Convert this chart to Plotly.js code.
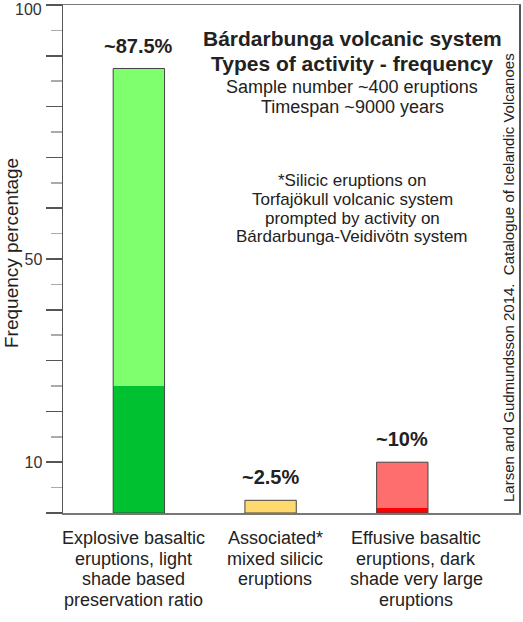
<!DOCTYPE html>
<html>
<head>
<meta charset="utf-8">
<script src="https://cdn.plot.ly/plotly-3.0.1.min.js"></script>
<style>
  html, body { margin: 0; padding: 0; background: #ffffff; }
  #chart { width: 523px; height: 622px; }
</style>
</head>
<body>
<div id="chart"></div>
<script>
// Eruption types of the Bárdarbunga volcanic system
const categories = [
  "Explosive basaltic\neruptions, light\nshade based\npreservation ratio",
  "Associated*\nmixed silicic\neruptions",
  "Effusive basaltic\neruptions, dark\nshade very large\neruptions"
];
const totals = [87.5, 2.5, 10];      // frequency percentage of each type
const darkShare = [25, 0, 1];        // dark-shaded lower part of each bar
const yTickVals = [0, 10, 20, 30, 40, 50, 60, 70, 80, 90, 100];
const yTickText = ["", "10", "", "", "", "50", "", "", "", "", ""];
const yTopLabel = "100";             // top tick label, nudged down to stay inside the page
const yMinorVals = [5, 15, 25, 35, 45, 55, 65, 75, 85, 95];
const titleLines = ["Bárdarbunga volcanic system", "Types of activity - frequency"];
const infoLines = ["Sample number ~400 eruptions", "Timespan ~9000 years"];
const noteLines = [
  "*Silicic eruptions on",
  "Torfajökull volcanic system",
  "prompted by activity on",
  "Bárdarbunga-Veidivötn system"
];
const sourceText = "Larsen and Gudmundsson 2014.  Catalogue of Icelandic Volcanoes";
const yTitle = "Frequency percentage";

// styling
const FONT = "Liberation Sans, Arial, sans-serif";
const INK = "#222222";
const lightColors = ["#80FF6E", "#FFD96E", "#FF6E6E"];
const darkColors = ["#00C230", "#FFD96E", "#FF0000"];

const W = 523, H = 622;
const M = { l: 63, r: 4, t: 5, b: 109 };
const plotW = W - M.l - M.r, plotH = H - M.t - M.b;
const px = x => (x - M.l) / plotW;            // page px -> paper x
const py = y => (H - M.b - y) / plotH;        // page px -> paper y

const idx = categories.map((_, i) => i);

const traces = [
  // full bar in the light shade
  { type: "bar", x: idx, y: totals, width: 0.39,
    marker: { color: lightColors, line: { width: 0 } }, hoverinfo: "skip" },
  // dark lower part
  { type: "bar", x: idx, y: darkShare, width: 0.39,
    marker: { color: darkColors, line: { width: 0 } }, hoverinfo: "skip" },
  // outline around the whole bar
  { type: "bar", x: idx, y: totals, width: 0.39,
    marker: { color: "rgba(0,0,0,0)", line: { width: 1, color: "#444444" } }, hoverinfo: "skip" }
];

const annotations = [];

// value labels above the bars
totals.forEach((v, i) => {
  annotations.push({
    xref: "x", yref: "y", x: i, y: v, text: "~" + v + "%",
    showarrow: false, yanchor: "middle", yshift: 23,
    font: { family: FONT, size: 20, color: INK, weight: "bold" }
  });
});

// category labels, one annotation per line
const labelCenters = [133, 275, 416];
categories.forEach((c, i) => {
  c.split("\n").forEach((line, k) => {
    annotations.push({
      xref: "paper", yref: "paper", x: px(labelCenters[i]), y: py(538 + k * 20.7),
      text: line, showarrow: false, xanchor: "center", yanchor: "middle",
      font: { family: FONT, size: 18, color: INK }
    });
  });
});

// heading block
titleLines.forEach((t, k) => {
  annotations.push({
    xref: "paper", yref: "paper", x: px(352), y: py(38 + k * 25),
    text: t, showarrow: false, xanchor: "center", yanchor: "middle",
    font: { family: FONT, size: 21, color: INK, weight: "bold" }
  });
});
infoLines.forEach((t, k) => {
  annotations.push({
    xref: "paper", yref: "paper", x: px(352), y: py(87 + k * 20.3),
    text: t, showarrow: false, xanchor: "center", yanchor: "middle",
    font: { family: FONT, size: 18, color: INK }
  });
});
noteLines.forEach((t, k) => {
  annotations.push({
    xref: "paper", yref: "paper", x: px(352), y: py(180.3 + k * 18.9),
    text: t, showarrow: false, xanchor: "center", yanchor: "middle",
    font: { family: FONT, size: 17, color: INK }
  });
});

// source credit along the right edge
annotations.push({
  xref: "paper", yref: "paper", x: px(509), y: py(278),
  text: sourceText, showarrow: false, textangle: -90,
  xanchor: "center", yanchor: "middle",
  font: { family: FONT, size: 15, color: INK }
});

// y axis title
annotations.push({
  xref: "paper", yref: "paper", x: px(11), y: py(253),
  text: yTitle, showarrow: false, textangle: -90,
  xanchor: "center", yanchor: "middle",
  font: { family: FONT, size: 19, color: INK }
});

// top tick label
annotations.push({
  xref: "paper", yref: "paper", x: px(44), y: py(10),
  text: yTopLabel, showarrow: false, xanchor: "right", yanchor: "middle",
  font: { family: FONT, size: 16, color: "#333333" }
});

const layout = {
  width: W, height: H,
  margin: M,
  paper_bgcolor: "#ffffff", plot_bgcolor: "#ffffff",
  barmode: "overlay",
  showlegend: false,
  font: { family: FONT, color: INK },
  xaxis: {
    type: "linear", range: [-0.576, 2.886],
    showline: true, linecolor: "#777777", linewidth: 1.5, mirror: true,
    ticks: "", showticklabels: false, showgrid: false, zeroline: false,
    fixedrange: true, automargin: false
  },
  yaxis: {
    range: [0, 100],
    showline: true, linecolor: "#555555", linewidth: 1.5, mirror: true,
    tickmode: "array", tickvals: yTickVals, ticktext: yTickText,
    ticks: "outside", ticklen: 16, tickwidth: 1.5, tickcolor: "#555555",
    tickfont: { family: FONT, size: 16, color: "#333333" },
    minor: { tickmode: "array", tickvals: yMinorVals, ticks: "outside",
             ticklen: 11, tickwidth: 1.5, tickcolor: "#aaaaaa" },
    showgrid: false, zeroline: false, fixedrange: true, automargin: false
  },
  annotations: annotations
};

Plotly.newPlot("chart", traces, layout, { staticPlot: true, displayModeBar: false });
</script>
</body>
</html>
